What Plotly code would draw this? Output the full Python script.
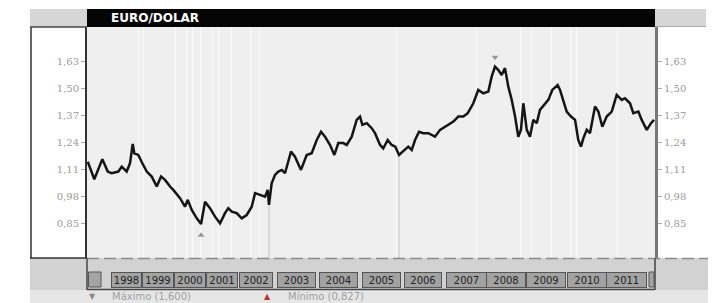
import plotly.graph_objects as go

# ---- data ----
dates = [
    "1997-12-03", "1998-02-02", "1998-04-18", "1998-06-07", "1998-07-14", "1998-09-14",
    "1998-10-16", "1998-12-01", "1999-01-01", "1999-01-26", "1999-02-10", "1999-03-19",
    "1999-04-26", "1999-06-06", "1999-07-22", "1999-09-07", "1999-10-17", "1999-11-23",
    "2000-01-09", "2000-02-08", "2000-04-11", "2000-05-27", "2000-06-22", "2000-07-29",
    "2000-09-14", "2000-10-24", "2000-11-30", "2001-01-15", "2001-03-03", "2001-04-19",
    "2001-06-04", "2001-07-05", "2001-08-06", "2001-09-21", "2001-11-07", "2001-12-23",
    "2002-02-08", "2002-03-11", "2002-04-26", "2002-06-12", "2002-07-07", "2002-07-19",
    "2002-08-13", "2002-09-13", "2002-10-14", "2002-11-15", "2002-12-15", "2003-02-09",
    "2003-03-18", "2003-04-18", "2003-05-13", "2003-07-05", "2003-08-21", "2003-10-07",
    "2003-11-16", "2003-12-23", "2004-02-08", "2004-03-19", "2004-04-25", "2004-06-11",
    "2004-07-12", "2004-08-28", "2004-10-13", "2004-11-13", "2004-12-05", "2005-01-15",
    "2005-03-02", "2005-04-02", "2005-05-19", "2005-06-18", "2005-07-29", "2005-09-04",
    "2005-10-08", "2005-11-12", "2005-12-31", "2006-02-06", "2006-03-10", "2006-04-10",
    "2006-05-17", "2006-06-26", "2006-08-12", "2006-10-13", "2006-11-29", "2007-01-14",
    "2007-03-02", "2007-04-02", "2007-05-18", "2007-07-04", "2007-08-14", "2007-10-05",
    "2007-11-20", "2008-01-06", "2008-02-22", "2008-03-24", "2008-04-24", "2008-05-25",
    "2008-06-25", "2008-07-26", "2008-08-26", "2008-09-27", "2008-10-28", "2008-11-27",
    "2008-12-22", "2009-01-13", "2009-02-14", "2009-03-16", "2009-04-16", "2009-05-18",
    "2009-06-17", "2009-08-03", "2009-09-03", "2009-10-10", "2009-11-29", "2009-12-21",
    "2010-01-21", "2010-02-21", "2010-04-02", "2010-05-10", "2010-06-09", "2010-07-04",
    "2010-07-26", "2010-08-27", "2010-09-26", "2010-11-12", "2010-12-13", "2011-01-19",
    "2011-03-01", "2011-04-17", "2011-06-02", "2011-07-19", "2011-08-18", "2011-10-04",
    "2011-11-04", "2011-12-21", "2012-01-21", "2012-03-08", "2012-04-17", "2012-05-15",
]
values = [
    1.150, 1.065, 1.162, 1.102, 1.094, 1.102,
    1.126, 1.102, 1.142, 1.235, 1.190, 1.182,
    1.142, 1.102, 1.078, 1.030, 1.078, 1.062,
    1.030, 1.014, 0.974, 0.933, 0.966, 0.917,
    0.877, 0.850, 0.957, 0.926, 0.885, 0.853,
    0.902, 0.926, 0.909, 0.902, 0.877, 0.893,
    0.933, 0.998, 0.990, 0.981, 1.014, 0.942,
    1.046, 1.086, 1.102, 1.110, 1.094, 1.198,
    1.174, 1.142, 1.110, 1.182, 1.190, 1.254,
    1.294, 1.270, 1.230, 1.182, 1.239, 1.239,
    1.230, 1.270, 1.351, 1.367, 1.327, 1.335,
    1.311, 1.287, 1.230, 1.214, 1.254, 1.230,
    1.222, 1.182, 1.206, 1.222, 1.206, 1.254,
    1.294, 1.287, 1.287, 1.270, 1.303, 1.318,
    1.335, 1.343, 1.367, 1.367, 1.383, 1.431,
    1.495, 1.479, 1.487, 1.559, 1.607, 1.591,
    1.567, 1.600, 1.511, 1.447, 1.367, 1.270,
    1.303, 1.431, 1.303, 1.270, 1.351, 1.335,
    1.399, 1.431, 1.447, 1.495, 1.519, 1.495,
    1.447, 1.391, 1.367, 1.351, 1.254, 1.222,
    1.262, 1.303, 1.287, 1.415, 1.391, 1.318,
    1.367, 1.391, 1.471, 1.447, 1.455, 1.431,
    1.383, 1.391, 1.351, 1.303, 1.335, 1.351,
]

y_ticks = [0.85, 0.98, 1.11, 1.24, 1.37, 1.50, 1.63]
y_tick_text = ["0,85", "0,98", "1,11", "1,24", "1,37", "1,50", "1,63"]

year_labels = ["1998", "1999", "2000", "2001", "2002", "2003", "2004",
               "2005", "2006", "2007", "2008", "2009", "2010", "2011"]
year_label_dates = ["1998-11-25", "1999-09-19", "2000-07-13", "2001-05-08",
                    "2002-03-20", "2003-03-28", "2004-04-22", "2005-05-28",
                    "2006-06-23", "2007-07-29", "2008-08-05", "2009-08-12",
                    "2010-08-29", "2011-09-06"]

grid_dates = ["1999-03-17", "1999-05-02", "2000-02-24", "2000-06-06", "2000-08-01",
              "2000-10-14", "2001-02-03", "2001-03-31", "2001-08-08", "2002-01-23",
              "2002-04-26", "2005-10-15", "2007-10-30", "2008-12-13", "2009-03-26",
              "2009-09-28", "2010-04-02", "2010-05-19", "2011-06-14"]

title_text = "EURO/DOLAR"
max_text = "Máximo (1,600)"
min_text = "Mínimo (0,827)"

x_range = ["1997-11-26", "2012-05-24"]
y_range = [0.686, 1.798]

# ---- figure geometry / styling (pixels) ----
W, H = 718, 303
L, R, T, B = 87, 63, 27, 45
PW, PH = W - L - R, H - T - B
label_box_widths = [29, 30, 30, 30, 32, 37, 37, 37, 36, 39, 38, 38, 38, 39]


def px(x):
    return (x - L) / PW


def py(y):
    return (H - B - y) / PH


fig = go.Figure()

fig.add_trace(go.Scatter(
    x=dates, y=values, mode="lines",
    line=dict(color="#151515", width=2.5),
    hoverinfo="skip", showlegend=False,
))
# invisible copy on the right axis so it is drawn
fig.add_trace(go.Scatter(
    x=dates, y=values, mode="lines", yaxis="y2",
    line=dict(color="rgba(0,0,0,0)", width=0),
    hoverinfo="skip", showlegend=False,
))

imax = max(range(len(values)), key=lambda i: values[i])
imin = min(range(len(values)), key=lambda i: values[i])
fig.add_trace(go.Scatter(
    x=[dates[imax]], y=[values[imax] + 0.045], mode="markers",
    marker=dict(symbol="triangle-down", size=6, color="#999"),
    hoverinfo="skip", showlegend=False,
))
fig.add_trace(go.Scatter(
    x=[dates[imin]], y=[values[imin] - 0.055], mode="markers",
    marker=dict(symbol="triangle-up", size=6, color="#999"),
    hoverinfo="skip", showlegend=False,
))

shapes = []
# header bars
shapes.append(dict(type="rect", xref="paper", yref="paper",
                   x0=px(30), x1=px(87), y0=py(27), y1=py(9),
                   fillcolor="#d6d6d6", line=dict(width=0), layer="below"))
shapes.append(dict(type="rect", xref="paper", yref="paper",
                   x0=px(655), x1=px(706), y0=py(27), y1=py(9),
                   fillcolor="#d6d6d6", line=dict(width=0), layer="below"))
shapes.append(dict(type="rect", xref="paper", yref="paper",
                   x0=px(87), x1=px(655), y0=py(27), y1=py(9),
                   fillcolor="#050505", line=dict(width=0)))
shapes.append(dict(type="line", xref="paper", yref="paper",
                   x0=px(655), x1=px(706), y0=py(26.5), y1=py(26.5),
                   line=dict(color="#aaaaaa", width=1)))
# bottom band
shapes.append(dict(type="rect", xref="paper", yref="paper",
                   x0=px(30), x1=px(708), y0=py(290), y1=py(258),
                   fillcolor="#d2d2d2", line=dict(width=0), layer="below"))
shapes.append(dict(type="rect", xref="paper", yref="paper",
                   x0=px(30), x1=px(708), y0=py(303), y1=py(290),
                   fillcolor="#e6e6e6", line=dict(width=0), layer="below"))
# left frame
shapes.append(dict(type="line", xref="paper", yref="paper",
                   x0=px(31), x1=px(31), y0=py(258), y1=py(27),
                   line=dict(color="#333", width=1.5)))
shapes.append(dict(type="line", xref="paper", yref="paper",
                   x0=px(30), x1=px(87), y0=py(27), y1=py(27),
                   line=dict(color="#444", width=1.5)))
shapes.append(dict(type="line", xref="paper", yref="paper",
                   x0=px(30), x1=px(87), y0=py(258), y1=py(258),
                   line=dict(color="#333", width=1.5)))
# dashed separator
shapes.append(dict(type="line", xref="paper", yref="paper",
                   x0=px(87), x1=px(708), y0=py(258.5), y1=py(258.5),
                   line=dict(color="#8a8a8a", width=1.5, dash="12px,5px")))
# label container frame
shapes.append(dict(type="line", xref="paper", yref="paper",
                   x0=px(87), x1=px(87), y0=py(290), y1=py(258),
                   line=dict(color="#444", width=1.5)))
shapes.append(dict(type="line", xref="paper", yref="paper",
                   x0=px(87), x1=px(655), y0=py(289.5), y1=py(289.5),
                   line=dict(color="#444", width=1.5)))
shapes.append(dict(type="line", xref="paper", yref="paper",
                   x0=px(655), x1=px(655), y0=py(290), y1=py(258),
                   line=dict(color="#666", width=2)))
# partial label boxes at both ends
shapes.append(dict(type="rect", xref="paper", yref="paper",
                   x0=px(88.5), x1=px(101), y0=py(287), y1=py(272),
                   fillcolor="#a4a4a4", line=dict(color="#555", width=1)))
shapes.append(dict(type="rect", xref="paper", yref="paper",
                   x0=px(649), x1=px(654), y0=py(287), y1=py(272),
                   fillcolor="#a4a4a4", line=dict(color="#555", width=1)))
# thin drop lines
for d in ["2002-07-19", "2005-11-12"]:
    v = values[dates.index(d)]
    shapes.append(dict(type="line", xref="x", yref="y",
                       x0=d, x1=d, y0=y_range[0], y1=v,
                       line=dict(color="#c4c4c4", width=1), layer="below"))

annotations = [
    dict(text="<b>" + title_text + "</b>", xref="paper", yref="paper",
         x=px(109), y=py(17.5), xanchor="left", yanchor="middle",
         showarrow=False, font=dict(family="DejaVu Sans", size=12, color="white")),
    dict(text="▼", xref="paper", yref="paper", x=px(92), y=py(296),
         xanchor="center", yanchor="middle", showarrow=False,
         font=dict(family="DejaVu Sans", size=8, color="#8a8a8a")),
    dict(text=max_text, xref="paper", yref="paper", x=px(110), y=py(296.5),
         xanchor="left", yanchor="middle", showarrow=False,
         font=dict(family="DejaVu Sans", size=10, color="#a0a0a0")),
    dict(text="▲", xref="paper", yref="paper", x=px(267), y=py(296),
         xanchor="center", yanchor="middle", showarrow=False,
         font=dict(family="DejaVu Sans", size=8, color="#c0302a")),
    dict(text=min_text, xref="paper", yref="paper", x=px(286), y=py(296.5),
         xanchor="left", yanchor="middle", showarrow=False,
         font=dict(family="DejaVu Sans", size=10, color="#a0a0a0")),
]
for lab, d, bw in zip(year_labels, year_label_dates, label_box_widths):
    annotations.append(dict(
        text=lab, xref="x", yref="paper", x=d, y=py(279.5),
        xanchor="center", yanchor="middle", showarrow=False,
        width=bw, height=14, bgcolor="#a2a2a2", bordercolor="#555",
        borderwidth=1, borderpad=0,
        font=dict(family="DejaVu Sans", size=10, color="#222222")))

tick_font = dict(family="DejaVu Serif", size=10, color="#9a9a9a")

fig.update_layout(
    width=W, height=H,
    margin=dict(l=L, r=R, t=T, b=B, pad=0),
    paper_bgcolor="white",
    plot_bgcolor="#efefef",
    showlegend=False,
    hovermode=False,
    shapes=shapes,
    annotations=annotations,
    xaxis=dict(type="date", range=x_range, tickvals=grid_dates,
               showticklabels=False, ticks="", showgrid=True,
               gridcolor="#fbfbfb", gridwidth=1, zeroline=False,
               showline=False, fixedrange=True),
    yaxis=dict(range=y_range, tickvals=y_ticks, ticktext=y_tick_text,
               ticks="outside", ticklen=4, tickcolor="#aaaaaa",
               tickfont=tick_font, showgrid=False, zeroline=False,
               showline=True, linecolor="#333", linewidth=2, fixedrange=True),
    yaxis2=dict(range=y_range, tickvals=y_ticks, ticktext=y_tick_text,
                overlaying="y", side="right",
                ticks="outside", ticklen=4, tickcolor="#aaaaaa",
                tickfont=tick_font, showgrid=False, zeroline=False,
                showline=True, linecolor="#777", linewidth=3, fixedrange=True),
)

fig.write_html(
    "out.html",
    config={"displayModeBar": False, "staticPlot": True},
    post_script="document.body.style.margin='0';document.body.style.padding='0';"
                "document.body.style.overflow='hidden';",
)
